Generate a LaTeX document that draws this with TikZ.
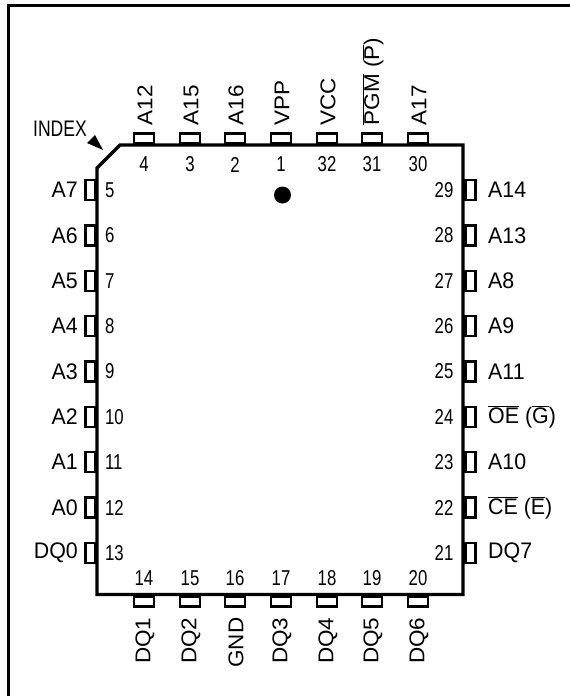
\documentclass[tikz,border=0pt]{standalone}
\usepackage{fontspec}
\setmainfont{Liberation Sans}
\newcommand{\ovl}[1]{\ensuremath{\overline{\mbox{#1}}}}
\tikzset{
  x=1pt,y=-1pt,
  frameline/.style={line width=3pt,draw=black},
  body/.style={line width=3.4pt,draw=black,line join=miter},
  pinbox/.style={draw=black,line width=2.4pt,fill=white,inner sep=0pt,outer sep=0pt},
  hpin/.style={pinbox,rectangle,minimum width=20pt,minimum height=10pt},
  vpin/.style={pinbox,rectangle,minimum width=10pt,minimum height=20pt},
  lab/.style={font=\fontsize{22.5}{22.5}\selectfont,inner sep=0pt,xscale=.95},
  num/.style={font=\fontsize{21.5}{21.5}\selectfont,inner sep=0pt,xscale=.78},
}
\begin{document}
\begin{tikzpicture}
\useasboundingbox (0,0) rectangle (570,696);
\draw[frameline] (8,700) -- (8,5) -- (574,5);
\foreach \n/\x/\t in {4/144/A12,3/190/A15,2/235/A16,1/281/VPP,32/327/VCC,31/372/{\ovl{PGM} (\ovl{P})},30/418/A17}{
  \node[hpin] (pin\n) at (\x,138.5) {};
  \node[lab,rotate=90,anchor=west] (lab\n) at ([xshift=1pt]\x,125.5) {\t};
  \node[num] (num\n) at (\x,164.5) {\n};
}
\foreach \n/\x/\t in {14/144/DQ1,15/190/DQ2,16/235/GND,17/281/DQ3,18/327/DQ4,19/372/DQ5,20/418/DQ6}{
  \node[hpin] (pin\n) at (\x,601.5) {};
  \node[lab,rotate=90,anchor=east] (lab\n) at ([xshift=1pt]\x,617.5) {\t};
  \node[num] (num\n) at (\x,578.5) {\n};
}
\foreach \n/\y/\t in {5/190/A7,6/235.5/A6,7/281/A5,8/326/A4,9/371.5/A3,10/417/A2,11/462/A1,12/507.5/A0,13/553/DQ0}{
  \node[vpin] (pin\n) at (90.5,\y) {};
  \node[lab,anchor=east] (lab\n) at (78,\y) {\t};
  \node[num,anchor=west] (num\n) at (105,\y) {\n};
}
\foreach \n/\y/\t in {29/190/A14,28/235.5/A13,27/281/A8,26/326/A9,25/371.5/A11,24/417/{\ovl{OE} (\ovl{G})},23/462/A10,22/507.5/{\ovl{CE} (\ovl{E})},21/553/DQ7}{
  \node[vpin] (pin\n) at (470.5,\y) {};
  \node[lab,anchor=west] (lab\n) at (488,\y) {\t};
  \node[num,anchor=east] (num\n) at (453.5,\y) {\n};
}
\draw[body,fill=none] (97,168) -- (120,145) -- (463,145) -- (463,594.5) -- (97,594.5) -- cycle;
\fill[black] (282.5,195) circle (8.5);
\node[font=\fontsize{22.5}{22.5}\selectfont,inner sep=0pt,xscale=.78,anchor=west] (indexlab) at (33,129) {INDEX};
\fill[black] (87,143) -- (95,135) -- (103,150) -- cycle;
\end{tikzpicture}
\end{document}
